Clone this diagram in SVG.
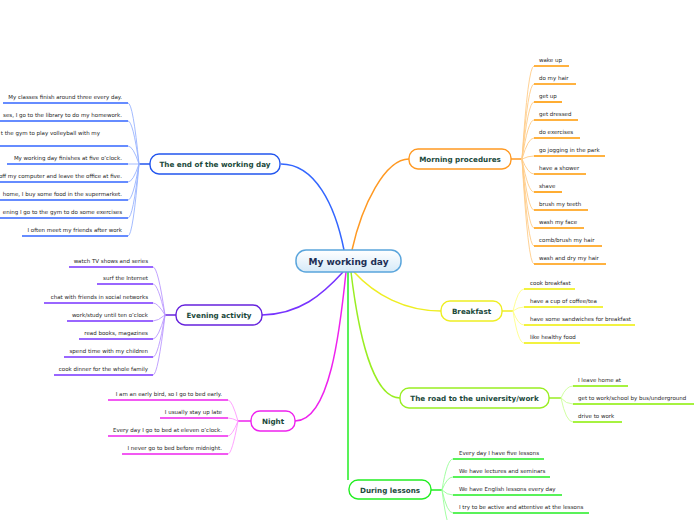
<svg xmlns="http://www.w3.org/2000/svg" width="696" height="520" viewBox="0 0 696 520">
<defs>
<linearGradient id="cg" x1="0" y1="0" x2="0" y2="1"><stop offset="0" stop-color="#ffffff"/><stop offset="1" stop-color="#d6eaf8"/></linearGradient>
</defs>
<style>
.leaf{font-family:"DejaVu Sans",Verdana,sans-serif;font-size:5.5px;fill:#262626}
.end{text-anchor:end}
.bt{font-family:"DejaVu Sans",Verdana,sans-serif;font-size:7.2px;font-weight:bold;fill:#1b4a3c;text-anchor:middle}
.ct{font-family:"DejaVu Sans",Verdana,sans-serif;font-size:9px;font-weight:bold;fill:#1c2f55;text-anchor:middle}
.bn{fill:#ffffff;stroke-width:1.4}
.mc{fill:none;stroke-width:1.5}
.fc{fill:none;stroke-width:0.9}
.ul{fill:none;stroke-width:1.6}
</style>
<rect width="696" height="520" fill="#ffffff"/>
<g id="connectors">
<path class="mc" stroke="#3366ff" d="M344,250 C335,205 315,164 281,164"/>
<path class="mc" stroke="#ff9922" d="M352,250 C362,205 385,159 409,159"/>
<path class="mc" stroke="#7733ff" d="M343,272 C322,295 300,314 262,315"/>
<path class="mc" stroke="#ee22ee" d="M346,272 C340,330 330,421 295,421"/>
<path class="mc" stroke="#22ee22" d="M348,272 L348,480"/>
<path class="mc" stroke="#99ee22" d="M351,272 C358,330 372,398 400,398"/>
<path class="mc" stroke="#eeee22" d="M354,272 C375,295 405,311 441,311"/>
<path class="mc" stroke="#2255ee" d="M150,164 L139,164"/>
<g stroke="#99b3ff" class="fc">
<path d="M139,164 Q133,103 128,103"/><path d="M139,164 Q133,121 128,121"/><path d="M139,164 Q133,146 128,146"/><path d="M139,164 L128,164"/><path d="M139,164 Q133,182 128,182"/><path d="M139,164 Q133,200 128,200"/><path d="M139,164 Q133,218 128,218"/><path d="M139,164 Q133,236 128,236"/>
</g>
<path class="mc" stroke="#6622dd" d="M176,315 L165,315"/>
<g stroke="#bb99ff" class="fc">
<path d="M165,315 Q158,267 153,267"/><path d="M165,315 Q158,284 153,284"/><path d="M165,315 Q158,303 153,303"/><path d="M165,315 Q158,321 153,321"/><path d="M165,315 Q158,339 153,339"/><path d="M165,315 Q158,357 153,357"/><path d="M165,315 Q158,375 153,375"/>
</g>
<path class="mc" stroke="#ee22ee" d="M251,421 L238,421"/>
<g stroke="#ff99ff" class="fc">
<path d="M238,421 Q232,400 228,400"/><path d="M238,421 Q232,418 228,418"/><path d="M238,421 Q232,436 228,436"/><path d="M238,421 Q232,454 228,454"/>
</g>
<path class="mc" stroke="#ff9922" d="M511,159 L522,159"/>
<g stroke="#ffcc88" class="fc">
<path d="M522,159 Q528,66 534,66"/><path d="M522,159 Q528,84 534,84"/><path d="M522,159 Q528,102 534,102"/><path d="M522,159 Q528,120 534,120"/><path d="M522,159 Q528,138 534,138"/><path d="M522,159 Q528,156 534,156"/><path d="M522,159 Q528,174 534,174"/><path d="M522,159 Q528,192 534,192"/><path d="M522,159 Q528,210 534,210"/><path d="M522,159 Q528,228 534,228"/><path d="M522,159 Q528,246 534,246"/><path d="M522,159 Q528,264 534,264"/>
</g>
<path class="mc" stroke="#eeee22" d="M502,311 L513,311"/>
<g stroke="#ffff88" class="fc">
<path d="M513,311 Q518,289 524,289"/><path d="M513,311 Q518,307 524,307"/><path d="M513,311 Q518,325 524,325"/><path d="M513,311 Q518,343 524,343"/>
</g>
<path class="mc" stroke="#99ee22" d="M549,398 L561,398"/>
<g stroke="#ccff99" class="fc">
<path d="M561,398 Q566,386 573,386"/><path d="M561,398 Q566,404 573,404"/><path d="M561,398 Q566,422 573,422"/>
</g>
<path class="mc" stroke="#22ee22" d="M431,490 L442,490"/>
<g stroke="#99ff99" class="fc">
<path d="M442,490 Q447,459 453,459"/><path d="M442,490 Q447,477 453,477"/><path d="M442,490 Q447,495 453,495"/><path d="M442,490 Q447,513 453,513"/><path d="M442,490 Q447,531 453,531"/>
</g>
</g>
<g id="center">
<rect x="296" y="250" width="105" height="22" rx="10" fill="url(#cg)" stroke="#5aa5dc" stroke-width="1.5"/>
<text class="ct" x="348.5" y="264.5">My working day</text>
</g>
<g id="end-of-day">
<rect class="bn" x="150" y="154" width="130" height="20" rx="9" stroke="#2255ee"/>
<text class="bt" x="215" y="166.5">The end of the working day</text>
<g class="ul" stroke="#3366ff">
<path d="M3,103 H128"/><path d="M0,121 H128"/><path d="M0,146 H128"/><path d="M7,164 H128"/><path d="M0,182 H128"/><path d="M0,200 H128"/><path d="M0,218 H128"/><path d="M22,236 H128"/>
</g>
<text class="leaf end" x="122" y="98.5">My classes finish around three every day.</text>
<text class="leaf end" x="122" y="116.5">ses, I go to the library to do my homework.</text>
<text class="leaf end" x="100" y="134.5">t the gym to play volleyball with my</text>
<text class="leaf end" x="122" y="159.5">My working day finishes at five o’clock.</text>
<text class="leaf end" x="122" y="177.5">off my computer and leave the office at five.</text>
<text class="leaf end" x="122" y="195.5">home, I buy some food in the supermarket.</text>
<text class="leaf end" x="122" y="213.5">ening I go to the gym to do some exercises</text>
<text class="leaf end" x="122" y="231.5">I often meet my friends after work</text>
</g>
<g id="evening">
<rect class="bn" x="176" y="305" width="86" height="20" rx="9" stroke="#6622dd"/>
<text class="bt" x="219" y="317.5">Evening activity</text>
<g class="ul" stroke="#7733ff">
<path d="M69,267 H153"/><path d="M97,284 H153"/><path d="M44,303 H153"/><path d="M67,321 H153"/><path d="M79,339 H153"/><path d="M64,357 H153"/><path d="M54,375 H153"/>
</g>
<text class="leaf end" x="148" y="262.5">watch TV shows and series</text>
<text class="leaf end" x="148" y="279.5">surf the Internet</text>
<text class="leaf end" x="148" y="298.5">chat with friends in social networks</text>
<text class="leaf end" x="148" y="316.5">work/study until ten o’clock</text>
<text class="leaf end" x="148" y="334.5">read books, magazines</text>
<text class="leaf end" x="148" y="352.5">spend time with my children</text>
<text class="leaf end" x="148" y="370.5">cook dinner for the whole family</text>
</g>
<g id="night">
<rect class="bn" x="251" y="411" width="44" height="20" rx="9" stroke="#ee22ee"/>
<text class="bt" x="273" y="423.5">Night</text>
<g class="ul" stroke="#ee22ee">
<path d="M108,400 H228"/><path d="M160,418 H228"/><path d="M108,436 H228"/><path d="M122,454 H228"/>
</g>
<text class="leaf end" x="222" y="395.5">I am an early bird, so I go to bed early.</text>
<text class="leaf end" x="222" y="413.5">I usually stay up late</text>
<text class="leaf end" x="222" y="431.5">Every day I go to bed at eleven o’clock.</text>
<text class="leaf end" x="222" y="449.5">I never go to bed before midnight.</text>
</g>
<g id="morning">
<rect class="bn" x="409" y="149" width="102" height="20" rx="9" stroke="#ff9922"/>
<text class="bt" x="460" y="161.5">Morning procedures</text>
<g class="ul" stroke="#ff9900">
<path d="M534,66 H569"/><path d="M534,84 H576"/><path d="M534,102 H562"/><path d="M534,120 H578"/><path d="M534,138 H580"/><path d="M534,156 H605"/><path d="M534,174 H586"/><path d="M534,192 H562"/><path d="M534,210 H588"/><path d="M534,228 H584"/><path d="M534,246 H602"/><path d="M534,264 H606"/>
</g>
<text class="leaf" x="539" y="61.5">wake up</text>
<text class="leaf" x="539" y="79.5">do my hair</text>
<text class="leaf" x="539" y="97.5">get up</text>
<text class="leaf" x="539" y="115.5">get dressed</text>
<text class="leaf" x="539" y="133.5">do exercises</text>
<text class="leaf" x="539" y="151.5">go jogging in the park</text>
<text class="leaf" x="539" y="169.5">have a shower</text>
<text class="leaf" x="539" y="187.5">shave</text>
<text class="leaf" x="539" y="205.5">brush my teeth</text>
<text class="leaf" x="539" y="223.5">wash my face</text>
<text class="leaf" x="539" y="241.5">comb/brush my hair</text>
<text class="leaf" x="539" y="259.5">wash and dry my hair</text>
</g>
<g id="breakfast">
<rect class="bn" x="441" y="301" width="61" height="20" rx="9" stroke="#eeee22"/>
<text class="bt" x="471.5" y="313.5">Breakfast</text>
<g class="ul" stroke="#eeee00">
<path d="M524,289 H575"/><path d="M524,307 H603"/><path d="M524,325 H635"/><path d="M524,343 H580"/>
</g>
<text class="leaf" x="530" y="284.5">cook breakfast</text>
<text class="leaf" x="530" y="302.5">have a cup of coffee/tea</text>
<text class="leaf" x="530" y="320.5">have some sandwiches for breakfast</text>
<text class="leaf" x="530" y="338.5">like healthy food</text>
</g>
<g id="road">
<rect class="bn" x="400" y="388" width="149" height="20" rx="9" stroke="#99ee22"/>
<text class="bt" x="474.5" y="400.5">The road to the university/work</text>
<g class="ul" stroke="#88ee00">
<path d="M573,386 H628"/><path d="M573,404 H694"/><path d="M573,422 H622"/>
</g>
<text class="leaf" x="578" y="381.5">I leave home at</text>
<text class="leaf" x="578" y="399.5">get to work/school by bus/underground</text>
<text class="leaf" x="578" y="417.5">drive to work</text>
</g>
<g id="lessons">
<rect class="bn" x="349" y="480" width="82" height="19" rx="9" stroke="#22ee22"/>
<text class="bt" x="390" y="492.5">During lessons</text>
<g class="ul" stroke="#22ee22">
<path d="M453,459 H544"/><path d="M453,477 H550"/><path d="M453,495 H562"/><path d="M453,513 H589"/>
</g>
<text class="leaf" x="459" y="454.5">Every day I have five lessons</text>
<text class="leaf" x="459" y="472.5">We have lectures and seminars</text>
<text class="leaf" x="459" y="490.5">We have English lessons every day</text>
<text class="leaf" x="459" y="508.5">I try to be active and attentive at the lessons</text>
</g>
</svg>
